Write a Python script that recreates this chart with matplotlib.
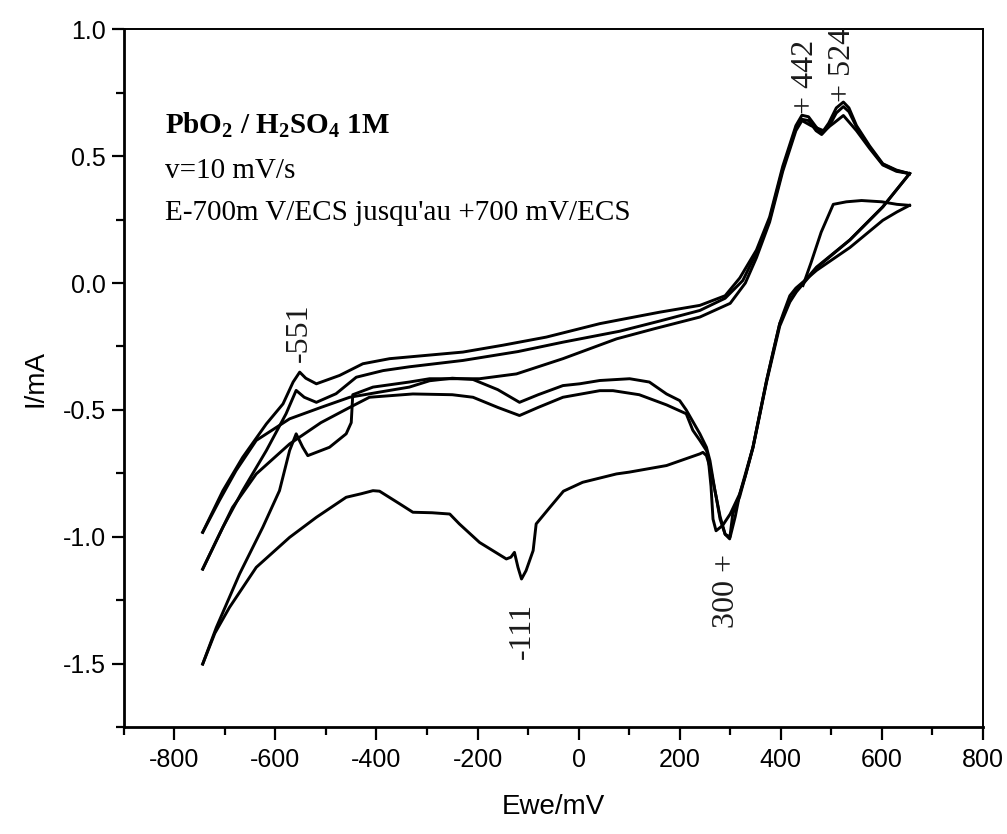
import matplotlib
matplotlib.use("Agg")
import matplotlib.pyplot as plt
from matplotlib.ticker import MultipleLocator, FormatStrFormatter

plt.rcParams['mathtext.fontset'] = 'custom'
plt.rcParams['mathtext.rm'] = 'Liberation Serif'
plt.rcParams['mathtext.bf'] = 'Liberation Serif:bold'
plt.rcParams['axes.unicode_minus'] = False

# potential (mV) / current (mA), one list per sweep
# start at rest potential, anodic up to +655 mV
e_start = [444, 460, 480, 504, 530, 560, 600, 630, 655]
i_start = [-0.01, 0.08, 0.20, 0.31, 0.32, 0.325, 0.32, 0.31, 0.306]

# cathodic sweep 1 (lowest branch, peak -111)
e_cath1 = [655, 630, 602, 537, 471, 430, 418, 405, 398, 385, 372, 358, 345, 330, 319,
           310, 300, 290, 280, 272, 262, 253, 246, 240, 174, 100, 75, 8, -30, -57,
           -84, -90, -104, -113, -120, -127, -134, -143, -196, -236, -255, -290, -328,
           -354, -394, -407, -430, -460, -519, -572, -638, -691, -720, -744]
i_cath1 = [0.306, 0.28, 0.247, 0.14, 0.05, -0.02, -0.05, -0.12, -0.16, -0.27, -0.384,
           -0.52, -0.647, -0.76, -0.83, -0.92, -1.0, -0.99, -0.93, -0.84, -0.74, -0.68,
           -0.667, -0.673, -0.719, -0.745, -0.752, -0.785, -0.82, -0.884, -0.949,
           -1.054, -1.133, -1.166, -1.12, -1.061, -1.08, -1.087, -1.022, -0.949, -0.91,
           -0.905, -0.903, -0.87, -0.82, -0.818, -0.83, -0.844, -0.923, -1.002, -1.12,
           -1.278, -1.38, -1.501]

# anodic sweep 1 (peak -551 at its lowest)
e_anod1 = [-744, -717, -671, -625, -592, -572, -559, -546, -536, -493, -460, -450, -447,
           -407, -335, -295, -196, -123, -31, 75, 150, 240, 300, 330, 352, 378, 404,
           430, 442, 460, 485, 505, 524, 550, 576, 602, 629, 655]
i_anod1 = [-1.501, -1.357, -1.146, -0.962, -0.818, -0.66, -0.594, -0.647, -0.68, -0.647,
           -0.594, -0.55, -0.44, -0.41, -0.39, -0.377, -0.377, -0.358, -0.298, -0.22,
           -0.18, -0.134, -0.08, 0.0, 0.10, 0.24, 0.44, 0.60, 0.64, 0.62, 0.60, 0.63,
           0.66, 0.60, 0.53, 0.465, 0.44, 0.431]

# cathodic sweep 2
e_cath2 = [655, 602, 537, 471, 431, 418, 398, 372, 345, 319, 300, 285, 272, 266, 262,
           256, 253, 240, 226, 213, 174, 120, 68, 42, -31, -80, -117, -160, -209, -250,
           -328, -414, -453, -510, -572, -638, -685, -717, -744]
i_cath2 = [0.431, 0.30, 0.17, 0.063, -0.03, -0.069, -0.16, -0.384, -0.647, -0.83, -0.91,
           -0.955, -0.976, -0.93, -0.80, -0.68, -0.66, -0.62, -0.58, -0.515, -0.48,
           -0.44, -0.424, -0.424, -0.45, -0.49, -0.522, -0.49, -0.45, -0.44, -0.437,
           -0.45, -0.49, -0.55, -0.634, -0.752, -0.884, -1.015, -1.127]

# anodic sweep 2
e_anod2 = [-744, -704, -665, -618, -579, -559, -543, -519, -480, -440, -387, -335, -229,
           -120, -31, 81, 160, 240, 290, 325, 352, 378, 404, 430, 442, 455, 470, 481,
           495, 510, 524, 535, 550, 576, 602, 629, 655]
i_anod2 = [-1.127, -0.962, -0.818, -0.66, -0.515, -0.423, -0.45, -0.47, -0.436, -0.371,
           -0.345, -0.33, -0.305, -0.27, -0.233, -0.19, -0.15, -0.108, -0.06, 0.01,
           0.12, 0.25, 0.45, 0.61, 0.645, 0.64, 0.60, 0.585, 0.615, 0.67, 0.695, 0.675,
           0.615, 0.535, 0.468, 0.443, 0.431]

# cathodic sweep 3
e_cath3 = [655, 602, 537, 471, 431, 418, 398, 372, 345, 319, 305, 299, 290, 280, 270,
           260, 253, 240, 213, 200, 174, 140, 101, 42, 2, -31, -80, -117, -160, -209,
           -250, -295, -335, -395, -453, -510, -572, -638, -678, -711, -744]
i_cath3 = [0.431, 0.30, 0.17, 0.06, -0.035, -0.075, -0.17, -0.39, -0.65, -0.84, -0.91,
           -1.008, -0.99, -0.92, -0.82, -0.70, -0.647, -0.594, -0.50, -0.463, -0.437,
           -0.39, -0.377, -0.384, -0.397, -0.404, -0.44, -0.47, -0.42, -0.38, -0.375,
           -0.385, -0.41, -0.43, -0.45, -0.49, -0.535, -0.62, -0.739, -0.857, -0.982]

# anodic sweep 3 (top branch)
e_anod3 = [-744, -704, -665, -618, -585, -565, -552, -540, -519, -473, -427, -374, -229,
           -150, -64, 42, 81, 160, 240, 290, 319, 352, 378, 404, 430, 442, 455, 470,
           481, 495, 510, 524, 535, 550, 576, 602, 629, 655]
i_anod3 = [-0.982, -0.818, -0.687, -0.555, -0.476, -0.39, -0.351, -0.375, -0.397, -0.364,
           -0.318, -0.298, -0.272, -0.245, -0.213, -0.16, -0.145, -0.115, -0.088, -0.05,
           0.02, 0.13, 0.26, 0.46, 0.62, 0.661, 0.655, 0.615, 0.59, 0.63, 0.69, 0.713,
           0.69, 0.62, 0.54, 0.47, 0.445, 0.431]

sweeps = [(e_start, i_start), (e_cath1, i_cath1), (e_anod1, i_anod1),
          (e_cath2, i_cath2), (e_anod2, i_anod2), (e_cath3, i_cath3),
          (e_anod3, i_anod3)]

peak_labels = ['+ 442', '+ 524', '-551', '-111', '300 +']

fig = plt.figure(figsize=(10.07, 8.34), dpi=100)
ax = fig.add_axes([0.123, 0.128, 0.853, 0.837])

for e, i in sweeps:
    ax.plot(e, i, color='black', lw=2.1, solid_joinstyle='round')

ax.set_xlim(-900, 800)
ax.set_ylim(-1.75, 1.0)
ax.xaxis.set_major_locator(MultipleLocator(200))
ax.xaxis.set_minor_locator(MultipleLocator(100))
ax.yaxis.set_major_locator(MultipleLocator(0.5))
ax.yaxis.set_minor_locator(MultipleLocator(0.25))
ax.yaxis.set_major_formatter(FormatStrFormatter('%.1f'))

for s in ['top', 'right']:
    ax.spines[s].set_linewidth(1.4)
for s in ['left', 'bottom']:
    ax.spines[s].set_linewidth(2.0)
ax.tick_params(which='both', direction='out', top=False, right=False, width=1.6)
ax.tick_params(which='major', length=9)
ax.tick_params(which='minor', length=6)

tick_font = ['Liberation Sans Narrow', 'Liberation Sans']
for lab in ax.get_xticklabels() + ax.get_yticklabels():
    lab.set_family(tick_font)
    lab.set_fontsize(18)
ax.tick_params(axis='x', pad=6)
ax.tick_params(axis='y', pad=4)

ax.set_xlabel('Ewe/mV', family=tick_font, fontsize=20, labelpad=16)
ax.set_ylabel('I/mA', family=tick_font, fontsize=20, labelpad=10)

serif = 'Liberation Serif'
ax.text(-818, 0.59, r'PbO$_\mathbf{2}$ / H$_\mathbf{2}$SO$_\mathbf{4}$ 1M',
        family=serif, fontsize=21, fontweight='bold', va='baseline')
ax.text(-818, 0.412, 'v=10 mV/s', family=serif, fontsize=21, va='baseline')
ax.text(-818, 0.247, "E-700m V/ECS jusqu'au +700 mV/ECS", family=serif,
        fontsize=21, va='baseline')

# rotated peak labels
label_pos = [(449, 0.665), (522, 0.715), (-552, -0.31), (-111, -1.48), (293, -1.36)]
for txt, (x, y) in zip(peak_labels, label_pos):
    ax.text(x, y, txt, rotation=90, ha='center', va='bottom', family=serif,
            fontsize=23, color='#1a1a1a', clip_on=False)

fig.savefig('out.png', dpi=100)
